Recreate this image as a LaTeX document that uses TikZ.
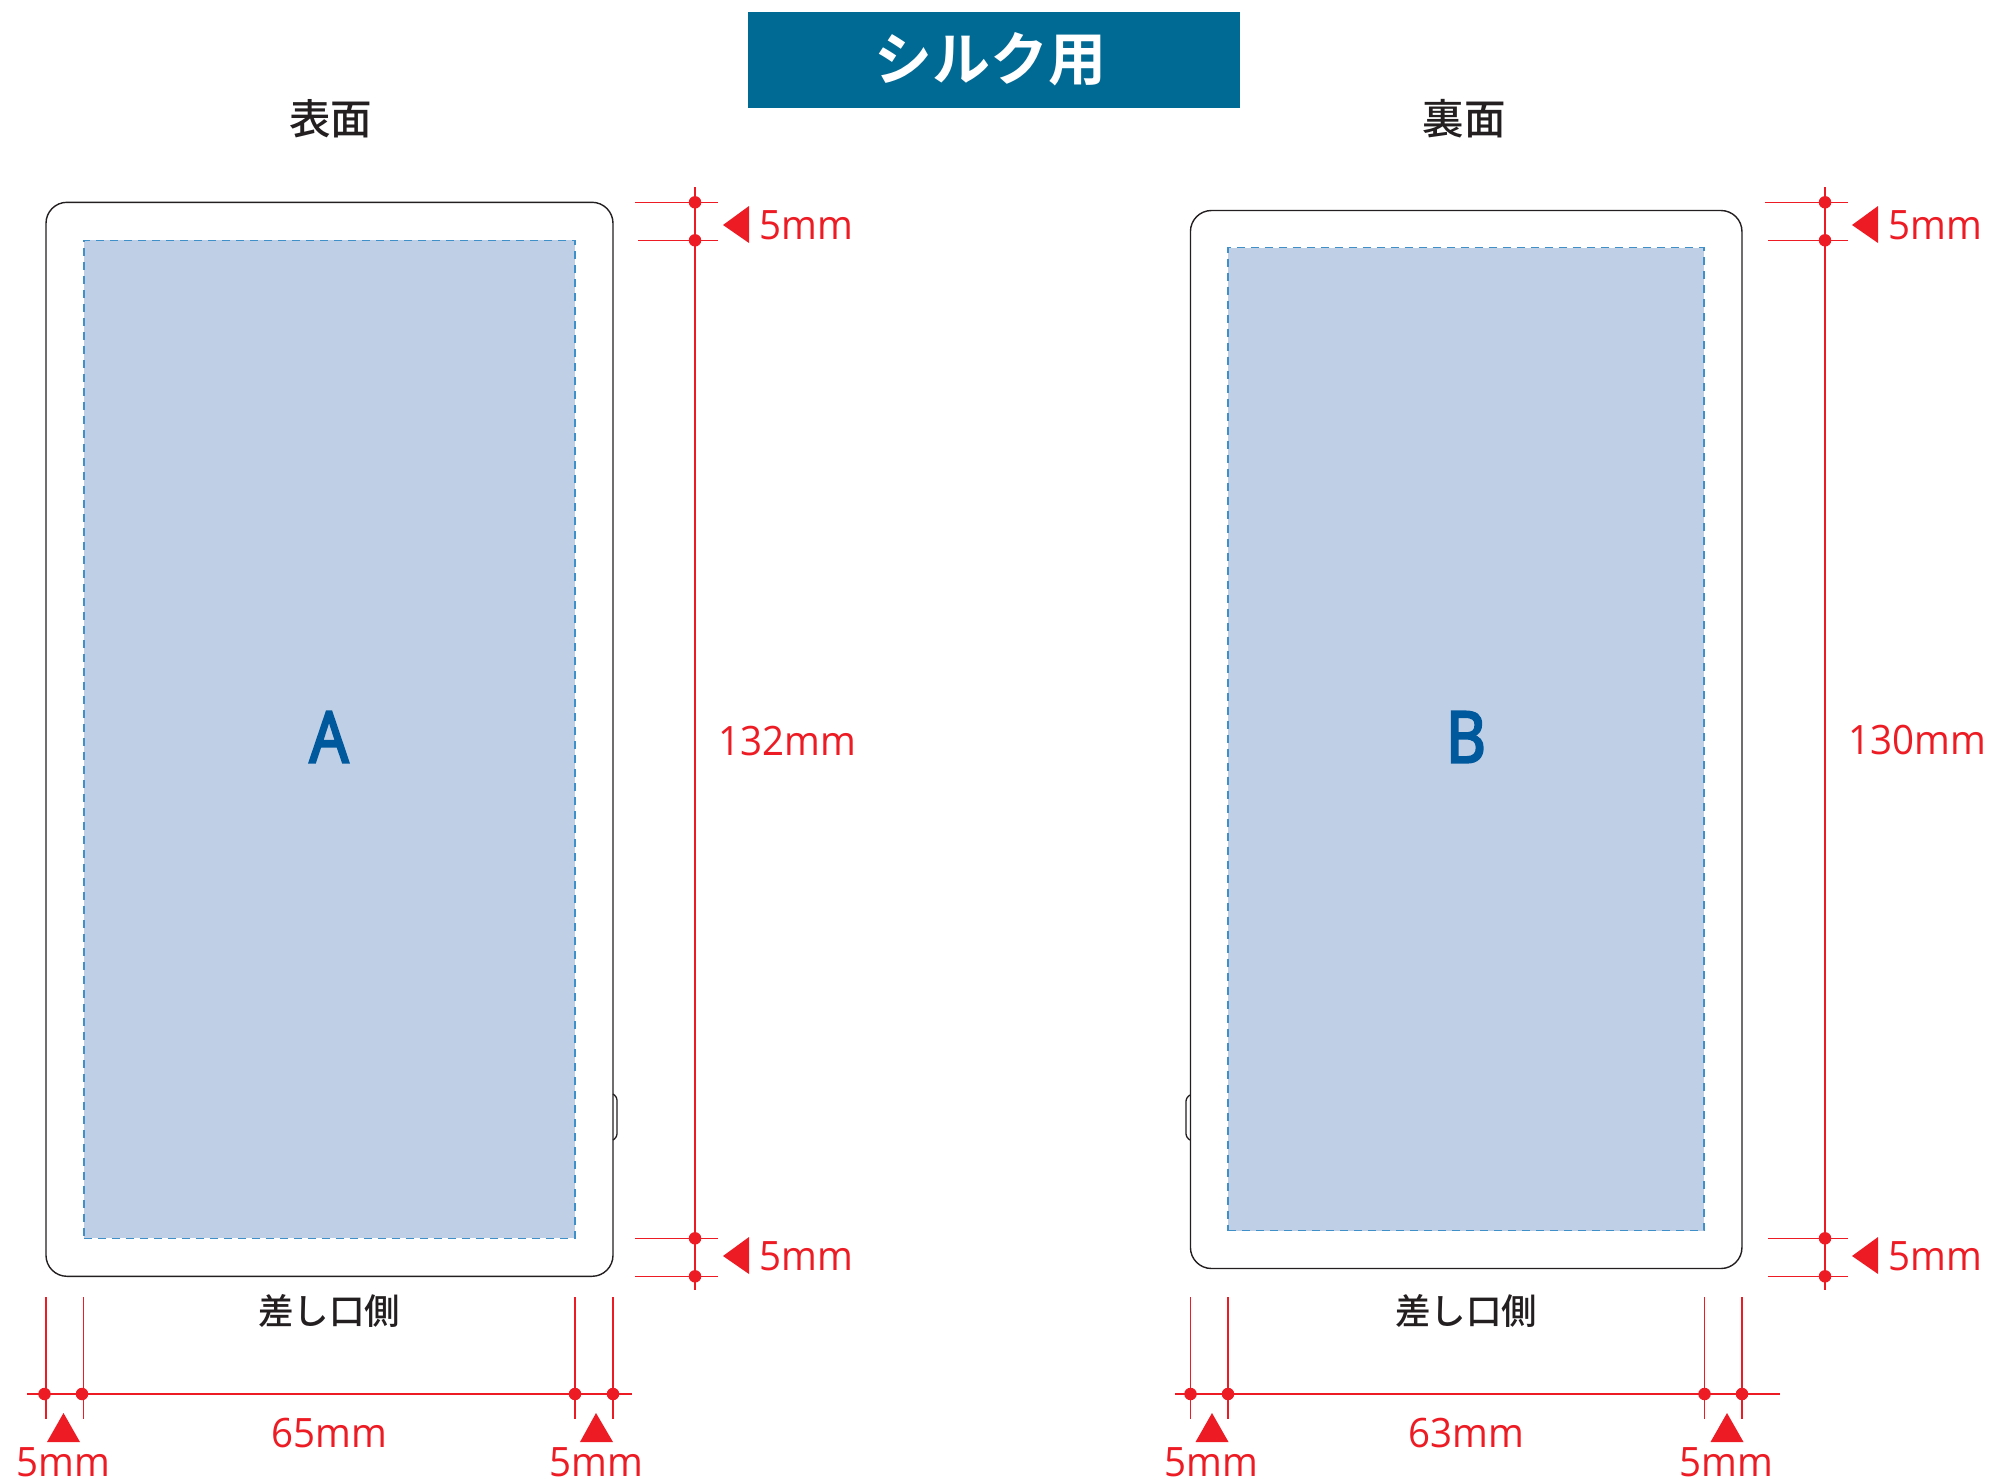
\documentclass[tikz,border=0pt]{standalone}
\usepackage{fontspec}
\setmainfont{Open Sans}[FakeStretch=0.95]
\newfontfamily\jpfont{Noto Sans CJK JP}
\newfontfamily\jpmed{Noto Sans CJK JP Medium}
\newfontfamily\jpbold{Noto Sans CJK JP Bold}
\newfontfamily\letterfont{Open Sans}[FakeStretch=0.86,FakeBold=3.5]
\definecolor{redc}{HTML}{ED1C24}
\definecolor{bannerc}{HTML}{006A94}
\definecolor{printc}{HTML}{BFCFE6}
\definecolor{dashc}{HTML}{3F8FC9}
\definecolor{letterc}{HTML}{00599D}
\definecolor{inkc}{HTML}{231F20}
\tikzset{
 card/.style={draw=inkc,line width=1.4pt,rounded corners=21pt,inner sep=0pt,minimum width=#1},
 printarea/.style={draw=dashc,fill=printc,line width=1.3pt,dash pattern=on 8pt off 6pt,inner sep=0pt,minimum width=#1},
 dim/.style={draw=redc,line width=1.1pt},
 dotm/.style={circle,fill=redc,inner sep=0pt,minimum size=12.5pt},
 arrowtri/.style={fill=redc},
 redlabel/.style={text=redc,inner sep=0pt,font=\fontsize{40.5}{41}\selectfont},
 headlabel/.style={text=inkc,inner sep=0pt,font=\jpmed\fontsize{41.5}{42}\selectfont},
 sidelabel/.style={text=inkc,inner sep=0pt,font=\jpmed\fontsize{35.5}{36}\selectfont},
 letterlabel/.style={text=letterc,inner sep=0pt,font=\letterfont\fontsize{71}{72}\selectfont},
 button/.style={draw=inkc,line width=1.3pt,rounded corners=3pt},
}
\begin{document}
\begin{tikzpicture}[x=1pt,y=-1pt]
\useasboundingbox (0,0) rectangle (2001,1483);
% banner
\node[fill=bannerc,minimum width=492pt,minimum height=96pt,inner sep=0pt] (banner) at (994,60) {};
\node[inner sep=0pt,text=white,font=\jpbold\fontsize{58}{59}\selectfont] (bannertext) at (990.5,59) {シルク用};
\node[headlabel] (headA) at (330.5,119) {表面};
\node[headlabel] (headB) at (1464,119) {裏面};
% cards
\node[card=567pt,minimum height=1074pt] (cardA) at (329.5,739.3) {};
\node[card=551.5pt,minimum height=1058pt] (cardB) at (1466.2,739.5) {};
\draw[button] (613,1094) -- (617,1097) -- (617,1137) -- (613,1140);
\draw[button] (1190,1095) -- (1186,1098) -- (1186,1137) -- (1190,1140);
% print areas
\node[printarea=491pt,minimum height=998pt] (printA) at (329.5,739.3) {};
\node[printarea=476pt,minimum height=983pt] (printB) at (1466,739) {};
\node[letterlabel] (letA) at (329,737) {A};
\node[letterlabel] (letB) at (1466,737) {B};
\node[sidelabel] (sideA) at (329,1310.5) {差し口側};
\node[sidelabel] (sideB) at (1466,1310.5) {差し口側};
% left vertical dimension
\coordinate (aT) at (695,187); \coordinate (aB) at (695,1290);
\node[dotm] (a1) at (695,202.3) {}; \node[dotm] (a2) at (695,240.3) {};
\node[dotm] (a3) at (695,1238.3) {}; \node[dotm] (a4) at (695,1276.3) {};
\coordinate (a1l) at (635,202.3); \coordinate (a1r) at (718,202.3);
\coordinate (a2l) at (638,240.3); \coordinate (a2r) at (718,240.3);
\coordinate (a3l) at (635,1238.3); \coordinate (a3r) at (718,1238.3);
\coordinate (a4l) at (635,1276.3); \coordinate (a4r) at (718,1276.3);
\draw[dim] (aT) -- (aB);
\draw[dim] (a1l) -- (a1r); \draw[dim] (a2l) -- (a2r); \draw[dim] (a3l) -- (a3r); \draw[dim] (a4l) -- (a4r);
\fill[arrowtri] (723,225) -- (749,206) -- (749,243) -- cycle;
\fill[arrowtri] (723,1256) -- (749,1237) -- (749,1274) -- cycle;
\node[redlabel,anchor=west] (a5t) at (759,225) {5mm};
\node[redlabel,anchor=west] (a5b) at (759,1256) {5mm};
\node[redlabel] (a132) at (787,741) {132mm};
% right vertical dimension
\coordinate (bT) at (1825,187); \coordinate (bB) at (1825,1290);
\node[dotm] (b1) at (1825,202.3) {}; \node[dotm] (b2) at (1825,240.3) {};
\node[dotm] (b3) at (1825,1238.3) {}; \node[dotm] (b4) at (1825,1276.3) {};
\coordinate (b1l) at (1765,202.3); \coordinate (b1r) at (1848,202.3);
\coordinate (b2l) at (1768,240.3); \coordinate (b2r) at (1848,240.3);
\coordinate (b3l) at (1768,1238.3); \coordinate (b3r) at (1848,1238.3);
\coordinate (b4l) at (1768,1276.3); \coordinate (b4r) at (1848,1276.3);
\draw[dim] (bT) -- (bB);
\draw[dim] (b1l) -- (b1r); \draw[dim] (b2l) -- (b2r); \draw[dim] (b3l) -- (b3r); \draw[dim] (b4l) -- (b4r);
\fill[arrowtri] (1852,225) -- (1878,206) -- (1878,243) -- cycle;
\fill[arrowtri] (1852,1256) -- (1878,1237) -- (1878,1274) -- cycle;
\node[redlabel,anchor=west] (b5t) at (1888,225) {5mm};
\node[redlabel,anchor=west] (b5b) at (1888,1256) {5mm};
\node[redlabel] (b130) at (1917,740) {130mm};
% left horizontal dimension
\coordinate (cL) at (27,1394); \coordinate (cR) at (632,1394);
\draw[dim] (cL) -- (cR);
\node[dotm] (c1) at (44.5,1394) {}; \node[dotm] (c2) at (82,1394) {};
\node[dotm] (c3) at (575,1394) {}; \node[dotm] (c4) at (613,1394) {};
\coordinate (c1t) at (46,1297); \coordinate (c1b) at (46,1419);
\coordinate (c2t) at (83.5,1297); \coordinate (c2b) at (83.5,1419);
\coordinate (c3t) at (575,1297); \coordinate (c3b) at (575,1419);
\coordinate (c4t) at (613,1297); \coordinate (c4b) at (613,1419);
\draw[dim] (c1t) -- (c1b); \draw[dim] (c2t) -- (c2b); \draw[dim] (c3t) -- (c3b); \draw[dim] (c4t) -- (c4b);
\fill[arrowtri] (63.5,1413) -- (47,1442) -- (80,1442) -- cycle;
\fill[arrowtri] (596,1413) -- (580,1442) -- (613,1442) -- cycle;
\node[redlabel] (c5l) at (63,1462.5) {5mm};
\node[redlabel] (c5r) at (596,1462.5) {5mm};
\node[redlabel] (c65) at (329.5,1433) {65mm};
% right horizontal dimension
\coordinate (dL) at (1175,1394); \coordinate (dR) at (1780,1394);
\draw[dim] (dL) -- (dR);
\node[dotm] (d1) at (1190.5,1394) {}; \node[dotm] (d2) at (1228,1394) {};
\node[dotm] (d3) at (1704.5,1394) {}; \node[dotm] (d4) at (1742,1394) {};
\coordinate (d1t) at (1190.5,1297); \coordinate (d1b) at (1190.5,1419);
\coordinate (d2t) at (1228,1297); \coordinate (d2b) at (1228,1419);
\coordinate (d3t) at (1704.5,1297); \coordinate (d3b) at (1704.5,1419);
\coordinate (d4t) at (1742,1297); \coordinate (d4b) at (1742,1419);
\draw[dim] (d1t) -- (d1b); \draw[dim] (d2t) -- (d2b); \draw[dim] (d3t) -- (d3b); \draw[dim] (d4t) -- (d4b);
\fill[arrowtri] (1212,1413) -- (1195.5,1442) -- (1228.5,1442) -- cycle;
\fill[arrowtri] (1727,1413) -- (1710.5,1442) -- (1743.5,1442) -- cycle;
\node[redlabel] (d5l) at (1211.5,1462.5) {5mm};
\node[redlabel] (d5r) at (1726.5,1462.5) {5mm};
\node[redlabel] (d63) at (1466.5,1433) {63mm};
\end{tikzpicture}
\end{document}
